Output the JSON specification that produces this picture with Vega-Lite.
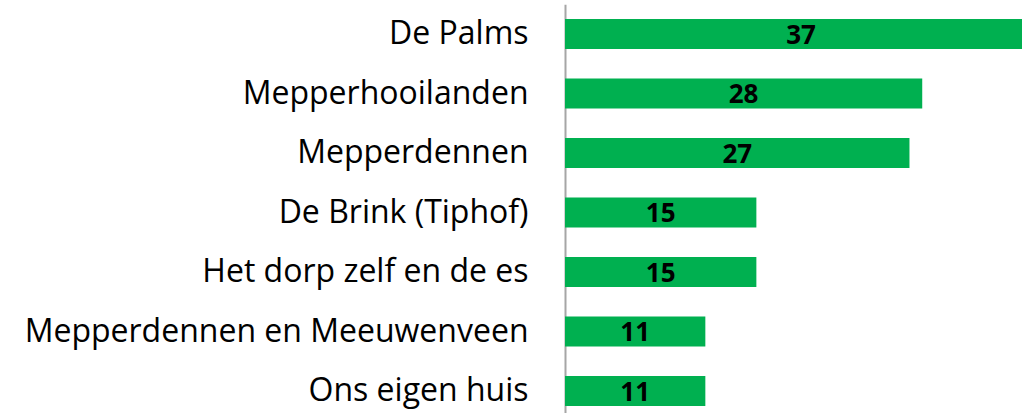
{
  "$schema": "https://vega.github.io/schema/vega-lite/v6.json",
  "autosize": "none",
  "padding": {"left": 565, "top": 4.25, "right": 0, "bottom": 0},
  "width": 457,
  "height": 416.5,
  "background": "white",
  "config": {"view": {"stroke": null}},
  "data": {"values": [
    {"locatie": "De Palms", "waarde": 37},
    {"locatie": "Mepperhooilanden", "waarde": 28},
    {"locatie": "Mepperdennen", "waarde": 27},
    {"locatie": "De Brink (Tiphof)", "waarde": 15},
    {"locatie": "Het dorp zelf en de es", "waarde": 15},
    {"locatie": "Mepperdennen en Meeuwenveen", "waarde": 11},
    {"locatie": "Ons eigen huis", "waarde": 11}
  ]},
  "encoding": {
    "y": {"field": "locatie", "type": "nominal", "sort": null,
      "scale": {"paddingInner": 0.496, "paddingOuter": 0.248},
      "axis": {"title": null, "ticks": false, "domainColor": "#A6A6A6", "domainWidth": 2,
        "labelFont": "Open Sans", "labelFontSize": 32, "labelColor": "#000000",
        "labelPadding": 37, "labelLimit": 600}}
  },
  "layer": [
    {"mark": {"type": "bar", "color": "#00B050", "clip": true},
     "encoding": {
       "x": {"field": "waarde", "type": "quantitative",
         "scale": {"domain": [0, 35.82], "nice": false, "zero": true},
         "axis": null}
     }},
    {"mark": {"type": "text", "font": "Open Sans", "fontWeight": "bold", "fontSize": 26, "color": "#000000", "baseline": "middle", "align": "center", "dy": 1.5},
     "encoding": {
       "x": {"field": "waarde", "type": "quantitative",
         "scale": {"domain": [0, 71.64], "nice": false, "zero": true},
         "axis": null},
       "text": {"field": "waarde", "type": "quantitative"}
     }}
  ],
  "resolve": {"scale": {"x": "independent"}}
}
